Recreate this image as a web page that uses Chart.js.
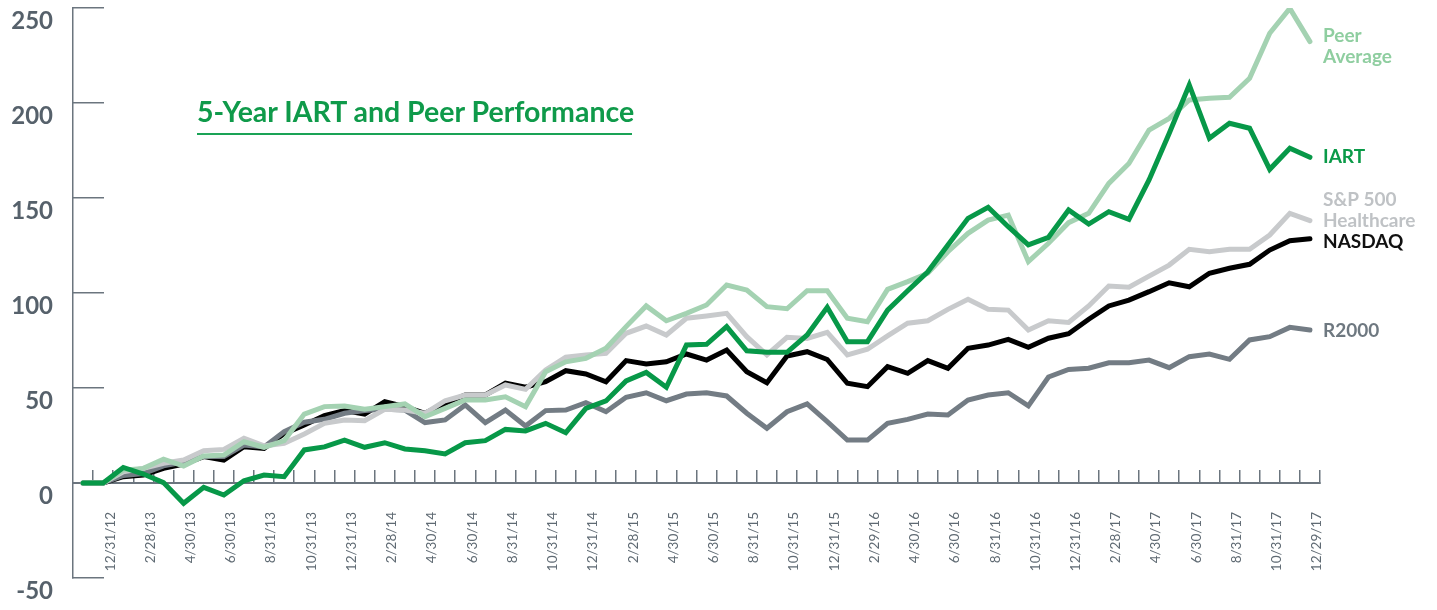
<!DOCTYPE html>
<html>
<head>
<meta charset="utf-8">
<script src="https://cdn.jsdelivr.net/npm/chart.js@4.4.1/dist/chart.umd.min.js"></script>
<style>
  html, body { margin: 0; padding: 0; background: #fff; }
  #wrap { position: relative; width: 1437px; height: 610px; }
  #title {
    position: absolute; left: 197px; top: 95px; width: 435px;
    font-family: Lato, sans-serif; font-weight: 700; font-size: 28.5px; line-height: 33px;
    color: #0f9a4a; padding-bottom: 5px; border-bottom: 2px solid #1aa356; white-space: nowrap;
  }
</style>
</head>
<body>
<div id="wrap">
  <canvas id="perfChart" width="1437" height="610"></canvas>
  <div id="title">5-Year IART and Peer Performance</div>
</div>
<script>
// month-end dates, one per point
const months = [
  "11/30/12", "12/31/12", "1/31/13", "2/28/13", "3/31/13", "4/30/13", "5/31/13", "6/30/13",
  "7/31/13", "8/31/13", "9/30/13", "10/31/13", "11/30/13", "12/31/13", "1/31/14", "2/28/14",
  "3/31/14", "4/30/14", "5/31/14", "6/30/14", "7/31/14", "8/31/14", "9/30/14", "10/31/14",
  "11/30/14", "12/31/14", "1/31/15", "2/28/15", "3/31/15", "4/30/15", "5/31/15", "6/30/15",
  "7/31/15", "8/31/15", "9/30/15", "10/31/15", "11/30/15", "12/31/15", "1/31/16", "2/29/16",
  "3/31/16", "4/30/16", "5/31/16", "6/30/16", "7/31/16", "8/31/16", "9/30/16", "10/31/16",
  "11/30/16", "12/31/16", "1/31/17", "2/28/17", "3/31/17", "4/30/17", "5/31/17", "6/30/17",
  "7/31/17", "8/31/17", "9/30/17", "10/31/17", "11/30/17", "12/29/17"
];

const iart = [
  0, 0, 8.2, 4.7, 0.2, -10.7, -2.3, -6.3, 1.2, 4.2, 3.3, 17.4,
  19, 22.6, 18.8, 21.2, 17.9, 17, 15.3, 21.2, 22.3, 28.2, 27.4, 31.4, 26.5,
  39.3, 43.2, 53.7, 58.2, 50.4, 72.6, 73, 82.3, 69.6, 68.8, 68.8, 77.9, 92.5,
  74.4, 74.4, 91, 101.2, 111.2, 125.3, 139.3, 145.1, 134.9, 125.3, 129.3, 143.7,
  136.3, 142.8, 138.8, 159.5, 184, 209.5, 181.4, 189.3, 186.7, 165.1, 176.2, 171.4
];

const peerAverage = [
  0, 0, 6.8, 7.7, 12.5, 8.9, 14.2, 14.7, 21.7, 18.8, 22.3, 36.3,
  40.2, 40.5, 38.8, 40.2, 41.6, 34.9, 39.3, 43.7, 43.7, 45.4, 40.2, 58.6, 63.8,
  65.6, 70.9, 82.3, 93.2, 85.4, 89.3, 93.7, 104.2, 101.6, 92.8, 91.7, 101.2, 101.2,
  86.7, 84.9, 101.9, 106, 110.4, 121.7, 131.4, 138.4, 141, 116.5, 126.2, 137,
  141.9, 157.7, 168.2, 185.8, 191.9, 201.6, 202.5, 203, 213, 236.7, 249.8, 232.3
];

const spHealthcare = [
  0, 0, 5.9, 7.7, 10.4, 12.1, 17, 17.7, 23.5, 19.5, 20.9, 25.8,
  31.4, 33.2, 32.8, 38.8, 38.4, 36.7, 43.3, 46.3, 46.3, 51.6, 49.3, 59.5, 66.2,
  67.4, 68.2, 78.8, 82.6, 77.9, 86.7, 87.9, 89.3, 77, 67.4, 76.7, 76.1, 79.3,
  67.4, 70.4, 77.4, 84.1, 85.4, 91.4, 96.7, 91.4, 91, 80.5, 85.4, 84.5,
  93.2, 103.7, 103, 108.9, 114.7, 123, 121.7, 123, 123, 130.5, 141.9, 138.1
];

const nasdaq = [
  0, 0, 3.3, 4.2, 7.7, 10, 13.9, 12.1, 19.1, 18.2, 26, 30.5,
  35.5, 38.1, 36.3, 42.8, 40.2, 36.7, 41.9, 46.3, 46.3, 52.5, 50.4, 53.3, 59.1,
  57.4, 53.3, 64.4, 62.6, 63.8, 67.9, 64.7, 70, 58.6, 52.8, 66.8, 69.1, 65,
  52.5, 50.7, 61.2, 57.7, 64.4, 60.4, 70.9, 72.6, 75.6, 71.4, 76.2, 78.6,
  86.2, 93.2, 96.3, 100.7, 105.4, 103.3, 110.4, 113, 115.1, 122.6, 127.5, 128.6
];

const r2000 = [
  0, 0, 4, 5, 9, 11, 14, 14, 20, 19, 27, 32,
  33.5, 36.7, 38.1, 38.8, 38.4, 31.8, 33.2, 41.1, 31.8, 38.4, 30, 38.1, 38.4,
  42.3, 37.5, 45.1, 47.5, 43.3, 46.8, 47.5, 45.8, 36.7, 28.8, 37.5, 41.6, 32.3,
  22.6, 22.6, 31.4, 33.5, 36.3, 35.8, 43.7, 46.3, 47.5, 40.6, 55.8, 59.8,
  60.4, 63.3, 63.3, 64.7, 60.7, 66.5, 67.9, 65.1, 75.3, 77, 81.9, 80.5
];

const yMin = -50;
const yMax = 250;
const yStep = 50;

const AXIS_GRAY = "#6b757e";
const LABEL_FONT = "bold 19px Lato";

function points(values) {
  return values.map((v, i) => ({ x: i, y: v }));
}

function series(label, values, color, order, tag, tagColor, tagShift) {
  return {
    label: label,
    data: points(values),
    borderColor: color,
    backgroundColor: color,
    borderWidth: 5,
    borderCapStyle: "round",
    pointRadius: 0,
    tension: 0,
    order: order,
    tag: tag,
    tagColor: tagColor,
    tagShift: tagShift
  };
}

// series names written at the end of each line
const endLabels = {
  id: "endLabels",
  afterDatasetsDraw(chart) {
    const ctx = chart.ctx;
    ctx.save();
    ctx.textAlign = "left";
    ctx.textBaseline = "middle";
    ctx.font = LABEL_FONT;
    chart.data.datasets.forEach((ds, i) => {
      const meta = chart.getDatasetMeta(i);
      const last = meta.data[meta.data.length - 1];
      ctx.fillStyle = ds.tagColor;
      ds.tag.forEach((line, j) => {
        ctx.fillText(line, chart.chartArea.right + 3, last.y + ds.tagShift + j * 21);
      });
    });
    ctx.restore();
  }
};

function loadPerfChart() {
  const canvas = document.getElementById("perfChart");
  if (!canvas) return;

  new Chart(canvas, {
    type: "line",
    data: {
      datasets: [
        series("IART", iart, "#079848", 1, ["IART"], "#0a9a48", 0),
        series("Peer Average", peerAverage, "#a4d2b2", 2, ["Peer", "Average"], "#8fcea0", -6),
        series("S&P 500 Healthcare", spHealthcare, "#c8cacc", 3, ["S&P 500", "Healthcare"], "#bfc2c5", -21),
        series("R2000", r2000, "#737c84", 4, ["R2000"], "#6e7880", 1),
        series("NASDAQ", nasdaq, "#000000", 5, ["NASDAQ"], "#111111", 3)
      ]
    },
    options: {
      responsive: false,
      animation: false,
      layout: { padding: { left: 0, right: 117, top: 8, bottom: 32 } },
      plugins: {
        legend: { display: false },
        tooltip: { enabled: false }
      },
      scales: {
        x: {
          type: "linear",
          position: { y: 0 },
          min: -0.5,
          max: months.length - 0.5,
          afterBuildTicks: axis => {
            axis.ticks = months.map((m, i) => ({ value: i + 0.5 }));
          },
          afterFit: axis => {
            axis.paddingLeft = 0;
            axis.paddingRight = 0;
          },
          grid: { drawOnChartArea: false, tickLength: -14, color: AXIS_GRAY, lineWidth: 1.5 },
          border: { display: true, color: AXIS_GRAY, width: 2 },
          ticks: {
            autoSkip: false,
            minRotation: 90,
            maxRotation: 90,
            padding: 43,
            labelOffset: -3,
            color: "#5f6a73",
            font: { family: "Lato", size: 13.5 },
            callback: value => {
              const i = Math.round(value - 0.5);
              return i % 2 === 1 ? months[i] : "";
            }
          }
        },
        y: {
          min: yMin,
          max: yMax,
          afterFit: axis => {
            axis.width = 73;
            axis.paddingTop = 0;
            axis.paddingBottom = 0;
          },
          grid: { drawOnChartArea: false, tickLength: -31, color: AXIS_GRAY, lineWidth: 1.5 },
          border: { color: AXIS_GRAY, width: 1.5 },
          ticks: {
            stepSize: yStep,
            padding: 51,
            labelOffset: 13,
            color: "#56616b",
            font: { family: "Lato", size: 24, weight: "bold" }
          }
        }
      }
    },
    plugins: [endLabels]
  });
}

loadPerfChart();
</script>
</body>
</html>
